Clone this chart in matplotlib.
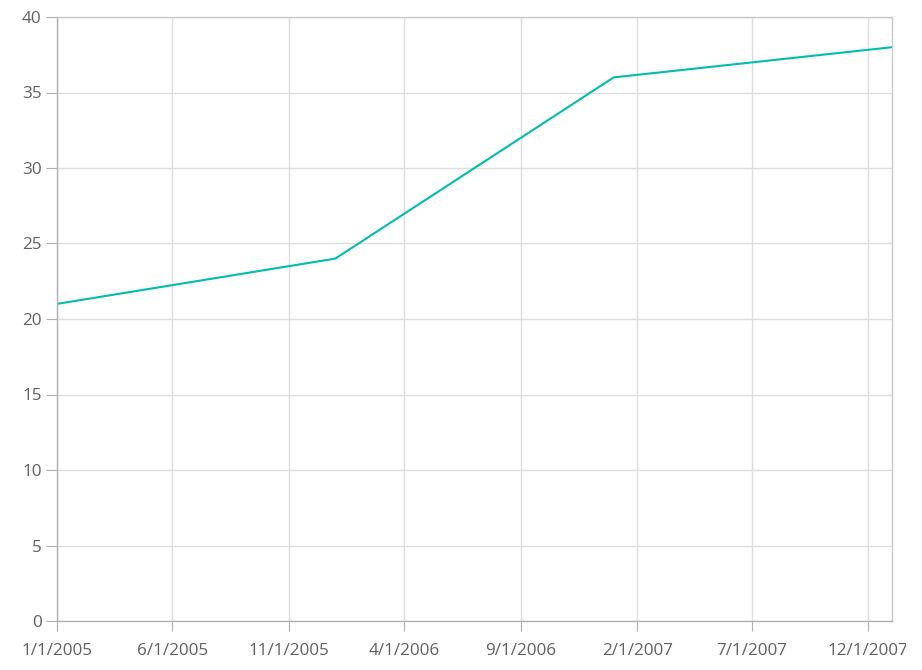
import numpy as np
import matplotlib.pyplot as plt
from matplotlib.patches import Rectangle
import datetime as dt

# data
dates = [dt.date(2005, 1, 1), dt.date(2006, 1, 1), dt.date(2007, 1, 1), dt.date(2008, 1, 1)]
values = [21, 24, 36, 38]

tick_dates = [dt.date(2005, 1, 1), dt.date(2005, 6, 1), dt.date(2005, 11, 1),
              dt.date(2006, 4, 1), dt.date(2006, 9, 1), dt.date(2007, 2, 1),
              dt.date(2007, 7, 1), dt.date(2007, 12, 1)]
tick_labels = ['1/1/2005', '6/1/2005', '11/1/2005', '4/1/2006',
               '9/1/2006', '2/1/2007', '7/1/2007', '12/1/2007']
y_ticks = [0, 5, 10, 15, 20, 25, 30, 35, 40]

plt.rcParams['font.family'] = ['Open Sans', 'DejaVu Sans']

W, H = 922, 670
fig = plt.figure(figsize=(W / 100, H / 100), dpi=100)
ax = fig.add_axes([57 / W, 1 - 621 / H, (892 - 57) / W, (621 - 17) / H])

ax.plot(dates, values, color='#00bdae', linewidth=1.5)

ax.set_xlim(dt.date(2005, 1, 1), dt.date(2008, 1, 1))
ax.set_ylim(0, 40)
ax.set_xticks(tick_dates)
ax.set_xticklabels(tick_labels)
ax.set_yticks(y_ticks)

ax.grid(True, color='#dddddd', linewidth=1)
ax.set_axisbelow(True)

for side in ['top', 'right']:
    ax.spines[side].set_color('#c8c8c8')
for side in ['left', 'bottom']:
    ax.spines[side].set_color('#b0b0b0')
for s in ax.spines.values():
    s.set_linewidth(1)

ax.tick_params(axis='x', length=7, color='#b0b0b0', labelsize=12.3,
               labelcolor='#616161', pad=9)
ax.tick_params(axis='y', length=8, color='#b0b0b0', labelsize=12.3,
               labelcolor='#616161', pad=3)

# last label is cut at the chart's right edge
fig.add_artist(Rectangle((906 / W, 0), 1, 40 / H, transform=fig.transFigure,
                         facecolor='white', edgecolor='none', zorder=10))

fig.savefig('out.png', dpi=100)
